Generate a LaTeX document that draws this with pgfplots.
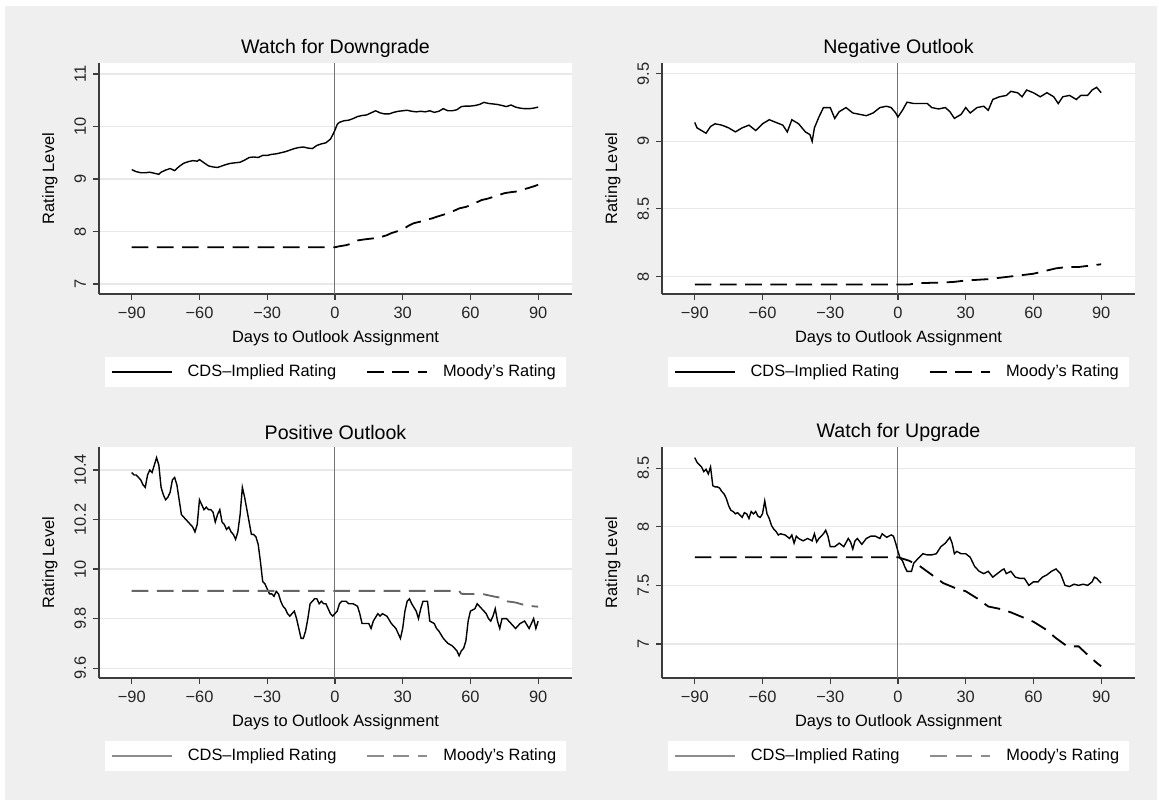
\documentclass[border=0pt]{standalone}
\usepackage{fontspec}
\setmainfont{Liberation Sans}
\usepackage{pgfplots}
\pgfplotsset{compat=1.18}
\definecolor{bg}{RGB}{239,239,239}
\definecolor{gridc}{RGB}{232,232,232}
\definecolor{axc}{RGB}{60,60,60}
\pgfplotsset{
  panel/.style={
    scale only axis, width=236.5pt, height=115.5pt,
    anchor=north west,
    xmin=-104.5, xmax=105,
    axis x line*=bottom, axis y line*=left,
    axis line style={axc, line width=0.7pt},
    axis background/.style={fill=white},
    xtick={-90,-60,-30,0,30,60,90},
    xticklabels={−90,−60,−30,0,30,60,90},
    tick align=outside, major tick length=3pt,
    tick style={axc, line width=0.6pt},
    ticklabel style={font=\fontsize{8.2}{9}\selectfont, text=black!85},
    yticklabel style={rotate=90, anchor=south},
    ymajorgrids, grid style={gridc, line width=0.6pt},
    xlabel={Days to Outlook Assignment},
    ylabel={Rating Level},
    label style={font=\fontsize{8.2}{9}\selectfont},
    xlabel style={at={(axis description cs:0.5,-0.19)}, anchor=center},
    ylabel style={at={(axis description cs:-0.104,0.5)}, anchor=center},
    title style={at={(axis description cs:0.5,1.062)}, anchor=center, yshift=-6pt, font=\fontsize{9.8}{11}\selectfont},
    legend columns=2,
    legend cell align=left,
    legend style={at={(0.5,-0.3377)}, anchor=center, draw=none, fill=white,
      font=\fontsize{8.2}{9}\selectfont, inner xsep=3pt, inner ysep=2pt,
      /tikz/every odd column/.append style={column sep=5.5pt},
      /tikz/every even column/.append style={column sep=13pt}},
  },
  cds/.style={black, line width=0.7pt, forget plot},
  moody/.style={black, line width=0.9pt, dash pattern=on 8.3pt off 4.3pt, forget plot},
  zl/.style={black!55, line width=0.5pt, forget plot},
  limg/.style={legend image code/.code={\draw[##1] (0pt,0pt) -- (30pt,0pt);}},
}
\begin{document}
\begin{tikzpicture}
\fill[white] (0pt,0pt) rectangle (579.5pt,-401.5pt);
\fill[bg] (2.5pt,-3pt) rectangle (578.5pt,-400pt);

% Panel 1
\begin{axis}[panel, at={(49.5pt,-31.5pt)}, title={Watch for Downgrade},
  ymin=6.81, ymax=11.21, ytick={7,8,9,10,11}, yticklabels={7,8,9,10,11}]
\addplot[zl] coordinates {(0,6.81) (0,11.21)};
\addplot[cds] coordinates {(-90,9.18) (-88,9.14) (-86,9.12) (-84,9.12) (-82,9.13) (-80,9.11) (-78,9.09) (-77,9.13) (-75,9.17) (-73,9.20) (-71,9.16) (-69,9.24) (-67,9.30) (-65,9.33) (-63,9.35) (-61,9.34) (-60,9.37) (-58,9.31) (-56,9.25) (-54,9.23) (-52,9.22) (-50,9.25) (-48,9.28) (-46,9.30) (-44,9.31) (-42,9.32) (-40,9.36) (-38,9.41) (-36,9.42) (-34,9.41) (-32,9.45) (-30,9.45) (-28,9.47) (-26,9.48) (-24,9.50) (-22,9.52) (-20,9.55) (-18,9.58) (-16,9.60) (-14,9.61) (-12,9.59) (-10,9.58) (-8,9.64) (-6,9.67) (-4,9.69) (-2,9.76) (-1,9.84) (0,9.93) (1,10.04) (2,10.08) (4,10.11) (6,10.12) (8,10.15) (10,10.19) (12,10.21) (14,10.22) (16,10.26) (18,10.30) (20,10.26) (22,10.24) (24,10.24) (26,10.27) (28,10.29) (30,10.30) (32,10.31) (34,10.29) (36,10.28) (38,10.29) (40,10.28) (42,10.30) (44,10.27) (46,10.29) (48,10.34) (50,10.30) (52,10.30) (54,10.32) (56,10.38) (58,10.39) (60,10.39) (62,10.40) (64,10.42) (66,10.46) (68,10.44) (70,10.43) (72,10.42) (74,10.40) (76,10.38) (78,10.41) (80,10.37) (82,10.35) (84,10.34) (86,10.34) (88,10.35) (90,10.37)};
\addplot[moody] coordinates {(-90,7.70) (0,7.70) (2,7.72) (5,7.74) (8,7.78) (10,7.83) (13,7.85) (17,7.87) (20,7.89) (23,7.93) (25,7.97) (28,8.01) (30,8.04) (33,8.12) (35,8.16) (38,8.19) (40,8.22) (43,8.25) (45,8.28) (48,8.32) (50,8.35) (53,8.40) (55,8.44) (58,8.47) (60,8.50) (63,8.56) (65,8.60) (68,8.63) (70,8.66) (73,8.70) (75,8.73) (78,8.75) (80,8.76) (83,8.80) (85,8.82) (88,8.86) (90,8.89)};
\addlegendimage{limg, black, line width=0.7pt}
\addlegendentry{CDS–Implied Rating}
\addlegendimage{limg, black, line width=0.9pt, dash pattern=on 8.3pt off 4.3pt}
\addlegendentry{Moody's Rating}
\end{axis}

% Panel 2
\begin{axis}[panel, at={(331pt,-31.5pt)}, title={Negative Outlook},
  ymin=7.87, ymax=9.58, ytick={8,8.5,9,9.5}, yticklabels={8,8.5,9,9.5}]
\addplot[zl] coordinates {(0,7.87) (0,9.58)};
\addplot[cds] coordinates {(-90,9.14) (-89,9.10) (-87,9.08) (-85,9.06) (-83,9.11) (-81,9.13) (-78,9.12) (-75,9.10) (-72,9.07) (-69,9.10) (-66,9.12) (-63,9.08) (-60,9.13) (-57,9.16) (-54,9.14) (-51,9.12) (-49,9.07) (-47,9.16) (-44,9.13) (-41,9.07) (-39,9.05) (-38,9.00) (-37,9.10) (-35,9.18) (-33,9.25) (-30,9.25) (-28,9.17) (-26,9.22) (-23,9.25) (-20,9.21) (-17,9.20) (-14,9.19) (-11,9.21) (-8,9.25) (-5,9.26) (-3,9.25) (-1,9.21) (0,9.18) (2,9.23) (4,9.29) (7,9.28) (10,9.28) (13,9.28) (15,9.25) (18,9.24) (21,9.25) (23,9.22) (25,9.17) (28,9.20) (30,9.25) (32,9.21) (35,9.25) (38,9.26) (40,9.23) (42,9.31) (45,9.33) (48,9.34) (50,9.37) (53,9.36) (55,9.33) (57,9.38) (60,9.36) (63,9.33) (66,9.36) (69,9.33) (71,9.28) (73,9.33) (76,9.34) (79,9.31) (81,9.34) (84,9.34) (86,9.38) (88,9.40) (89,9.38) (90,9.36)};
\addplot[moody] coordinates {(-90,7.94) (5,7.94) (8,7.95) (20,7.955) (25,7.96) (30,7.97) (40,7.98) (45,7.99) (50,8.00) (55,8.01) (60,8.02) (65,8.04) (70,8.06) (75,8.07) (80,8.07) (85,8.08) (90,8.09)};
\addlegendimage{limg, black, line width=0.7pt}
\addlegendentry{CDS–Implied Rating}
\addlegendimage{limg, black, line width=0.9pt, dash pattern=on 8.3pt off 4.3pt}
\addlegendentry{Moody's Rating}
\end{axis}

% Panel 3
\begin{axis}[panel, at={(49.5pt,-223.5pt)}, title={Positive Outlook},
  ymin=9.56, ymax=10.493, ytick={9.6,9.8,10,10.2,10.4}, yticklabels={9.6,9.8,10,10.2,10.4}]
\addplot[zl] coordinates {(0,9.56) (0,10.493)};
\addplot[cds] coordinates {(-90,10.39) (-89,10.38) (-88,10.38) (-87,10.37) (-86,10.36) (-85,10.34) (-84,10.33) (-83,10.38) (-82,10.40) (-81,10.39) (-80,10.42) (-79,10.45) (-78,10.42) (-77,10.33) (-76,10.30) (-75,10.28) (-74,10.29) (-73,10.31) (-72,10.36) (-71,10.37) (-70,10.34) (-69,10.28) (-68,10.22) (-67,10.21) (-66,10.20) (-65,10.19) (-64,10.18) (-63,10.17) (-62,10.15) (-61,10.18) (-60,10.28) (-59,10.26) (-58,10.24) (-57,10.25) (-56,10.24) (-55,10.24) (-54,10.23) (-53,10.19) (-52,10.22) (-51,10.24) (-50,10.19) (-49,10.18) (-48,10.16) (-47,10.17) (-46,10.15) (-45,10.14) (-44,10.12) (-43,10.15) (-42,10.22) (-41,10.33) (-40,10.29) (-39,10.24) (-38,10.19) (-37,10.14) (-36,10.14) (-35,10.13) (-34,10.10) (-33,10.03) (-32,9.95) (-31,9.94) (-30,9.92) (-29,9.90) (-28,9.90) (-27,9.89) (-26,9.91) (-25,9.90) (-24,9.87) (-23,9.85) (-22,9.84) (-21,9.82) (-20,9.81) (-19,9.82) (-18,9.83) (-17,9.80) (-16,9.76) (-15,9.72) (-14,9.72) (-13,9.75) (-12,9.80) (-11,9.86) (-10,9.87) (-9,9.88) (-8,9.88) (-7,9.86) (-6,9.87) (-5,9.86) (-4,9.86) (-3,9.84) (-2,9.82) (-1,9.81) (0,9.82) (1,9.83) (2,9.86) (3,9.87) (4,9.87) (5,9.87) (6,9.86) (8,9.86) (10,9.85) (11,9.82) (12,9.78) (14,9.78) (15,9.78) (16,9.76) (17,9.79) (19,9.82) (20,9.81) (21,9.82) (23,9.81) (25,9.78) (27,9.76) (28,9.74) (29,9.72) (30,9.76) (31,9.83) (32,9.87) (33,9.88) (34,9.86) (36,9.83) (37,9.80) (38,9.84) (39,9.87) (41,9.87) (42,9.79) (44,9.78) (45,9.76) (46,9.75) (48,9.72) (50,9.70) (52,9.69) (54,9.67) (55,9.65) (56,9.67) (57,9.68) (58,9.71) (59,9.79) (60,9.83) (62,9.84) (63,9.86) (65,9.84) (67,9.82) (68,9.80) (69,9.79) (70,9.81) (71,9.84) (72,9.79) (73,9.76) (74,9.80) (76,9.80) (78,9.78) (80,9.76) (82,9.78) (84,9.79) (86,9.76) (87,9.78) (88,9.80) (89,9.76) (90,9.79)};
\addplot[moody, black!60] coordinates {(-90,9.912) (55,9.912) (56,9.90) (66,9.898) (70,9.89) (73,9.885) (76,9.87) (80,9.865) (85,9.852) (90,9.848)};
\addlegendimage{limg, black!45, line width=1pt}
\addlegendentry{CDS–Implied Rating}
\addlegendimage{limg, black!45, line width=1pt, dash pattern=on 8.3pt off 4.3pt}
\addlegendentry{Moody's Rating}
\end{axis}

% Panel 4
\begin{axis}[panel, at={(331pt,-223.5pt)}, title={Watch for Upgrade},
  ymin=6.71, ymax=8.68, ytick={7,7.5,8,8.5}, yticklabels={7,7.5,8,8.5}]
\addplot[zl] coordinates {(0,6.71) (0,8.68)};
\addplot[cds] coordinates {(-90,8.59) (-89,8.55) (-88,8.53) (-87,8.51) (-86,8.47) (-85,8.49) (-84,8.45) (-83,8.51) (-82,8.35) (-81,8.34) (-80,8.34) (-79,8.33) (-78,8.30) (-77,8.28) (-76,8.24) (-75,8.18) (-74,8.14) (-73,8.13) (-72,8.11) (-71,8.12) (-70,8.10) (-69,8.08) (-68,8.12) (-67,8.11) (-66,8.07) (-65,8.13) (-64,8.11) (-63,8.13) (-62,8.09) (-61,8.08) (-60,8.11) (-59,8.22) (-58,8.11) (-57,8.07) (-56,8.01) (-55,7.98) (-54,7.96) (-53,7.93) (-52,7.94) (-50,7.93) (-48,7.90) (-47,7.93) (-46,7.86) (-45,7.92) (-44,7.90) (-42,7.88) (-40,7.90) (-38,7.88) (-37,7.94) (-36,7.87) (-35,7.90) (-34,7.92) (-33,7.94) (-32,7.97) (-31,7.92) (-30,7.83) (-28,7.83) (-26,7.86) (-24,7.83) (-22,7.90) (-21,7.87) (-20,7.81) (-19,7.88) (-18,7.90) (-16,7.85) (-14,7.90) (-12,7.92) (-10,7.92) (-8,7.90) (-7,7.94) (-5,7.91) (-3,7.93) (-2,7.92) (-1,7.86) (0,7.79) (1,7.73) (2,7.71) (3,7.66) (4,7.62) (5,7.62) (6,7.62) (7,7.69) (8,7.71) (9,7.73) (11,7.77) (13,7.76) (15,7.76) (17,7.77) (18,7.80) (19,7.83) (21,7.86) (23,7.91) (24,7.86) (25,7.77) (26,7.79) (28,7.77) (30,7.77) (32,7.74) (34,7.66) (36,7.62) (38,7.60) (40,7.62) (42,7.57) (44,7.60) (46,7.63) (47,7.64) (48,7.60) (50,7.62) (52,7.57) (54,7.56) (56,7.56) (58,7.50) (60,7.53) (62,7.53) (64,7.57) (66,7.59) (68,7.62) (70,7.64) (72,7.60) (74,7.50) (76,7.49) (78,7.51) (80,7.50) (82,7.51) (84,7.50) (86,7.53) (87,7.57) (88,7.56) (90,7.52)};
\addplot[moody] coordinates {(-90,7.74) (0,7.74) (5,7.71) (10,7.66) (15,7.59) (20,7.52) (25,7.48) (30,7.45) (35,7.39) (40,7.32) (45,7.30) (50,7.27) (55,7.23) (60,7.19) (65,7.13) (70,7.05) (75,6.98) (80,6.98) (85,6.89) (88,6.84) (90,6.81)};
\addlegendimage{limg, black!45, line width=1pt}
\addlegendentry{CDS–Implied Rating}
\addlegendimage{limg, black!45, line width=1pt, dash pattern=on 8.3pt off 4.3pt}
\addlegendentry{Moody's Rating}
\end{axis}
\end{tikzpicture}
\end{document}
